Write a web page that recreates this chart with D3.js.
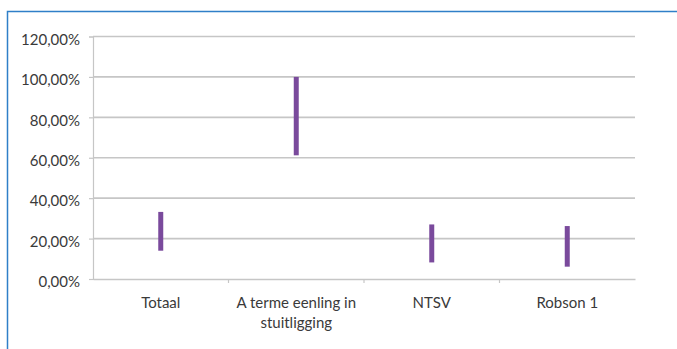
<!DOCTYPE html>
<html><head><meta charset="utf-8">
<script src="https://cdn.jsdelivr.net/npm/d3@7/dist/d3.min.js"></script>
<style>
html,body{margin:0;padding:0;background:#fff;}
svg{display:block;}
</style></head>
<body>
<script>
const categories = ["Totaal", "A terme eenling in|stuitligging", "NTSV", "Robson 1"];
const lowValues = [0.14, 0.612, 0.082, 0.061];
const highValues = [0.332, 1.0, 0.27, 0.262];
const yTicks = [0, 0.2, 0.4, 0.6, 0.8, 1.0, 1.2];

(function(){
const W = 677, H = 349;
const svg = d3.select("body").append("svg").attr("width", W).attr("height", H);
const FONT = "Lato, 'Open Sans', sans-serif";

// frame
svg.append("path").attr("d", `M7.5,${H} L7.5,11.5 L${W},11.5`)
  .attr("fill","none").attr("stroke","#2f7fc8").attr("stroke-width",1.5);

const mLeft = 93, mRight = 635, mTop = 36.5, mBottom = 279;
const x = d3.scaleBand().domain(categories).range([mLeft, mRight]).padding(0);
const y = d3.scaleLinear().domain([0, 1.2]).range([mBottom, mTop]);

const fmt = v => d3.format(".2f")(v*100).replace(".", ",") + "%";

// gridlines
svg.append("g").selectAll("line").data(yTicks.filter(t=>t>0)).join("line")
  .attr("x1", mLeft).attr("x2", mRight)
  .attr("y1", d=>y(d)).attr("y2", d=>y(d))
  .attr("stroke","#c6c6c6").attr("stroke-width",1.6);

// y axis
const yAxis = svg.append("g").attr("transform",`translate(${mLeft},0)`)
  .call(d3.axisLeft(y).tickValues(yTicks).tickFormat(fmt).tickSize(4).tickPadding(9));
yAxis.select(".domain").attr("stroke","#c6c6c6").attr("stroke-width",1.2);
yAxis.selectAll(".tick line").attr("stroke","#c6c6c6").attr("stroke-width",1.2);
yAxis.selectAll("text").attr("fill","#3a3a3a").attr("dy","0.32em").attr("y",3)
  .style("font-family",FONT).style("font-size","15px");

// x axis
const xAxis = svg.append("g").attr("transform",`translate(0,${mBottom})`)
  .call(d3.axisBottom(x).tickSize(0).tickFormat(""));
xAxis.select(".domain").attr("stroke","#c6c6c6").attr("stroke-width",1.6);
xAxis.selectAll(".tick").remove();
const bounds = categories.slice(1).map(c => x(c));
svg.append("g").selectAll("line").data(bounds).join("line")
  .attr("x1", d=>d).attr("x2", d=>d).attr("y1", mBottom).attr("y2", mBottom+4)
  .attr("stroke","#c6c6c6").attr("stroke-width",1.2);

// x labels
const lbl = svg.append("g").selectAll("text").data(categories).join("text")
  .attr("x", d => x(d) + x.bandwidth()/2)
  .attr("y", 308)
  .attr("text-anchor","middle")
  .attr("fill","#3a3a3a")
  .style("font-family",FONT).style("font-size","15px");
lbl.each(function(d){
  const parts = d.split("|");
  const t = d3.select(this);
  parts.forEach((p,i)=>{
    t.append("tspan").attr("x", x(d)+x.bandwidth()/2).attr("dy", i===0?0:20).text(p);
  });
});

// range bars
svg.append("g").selectAll("line").data(categories).join("line")
  .attr("x1", d => x(d)+x.bandwidth()/2).attr("x2", d => x(d)+x.bandwidth()/2)
  .attr("y1", (d,i)=>y(lowValues[i])).attr("y2", (d,i)=>y(highValues[i]))
  .attr("stroke","#7a4a9c").attr("stroke-width",5);
})();
</script>
</body></html>
